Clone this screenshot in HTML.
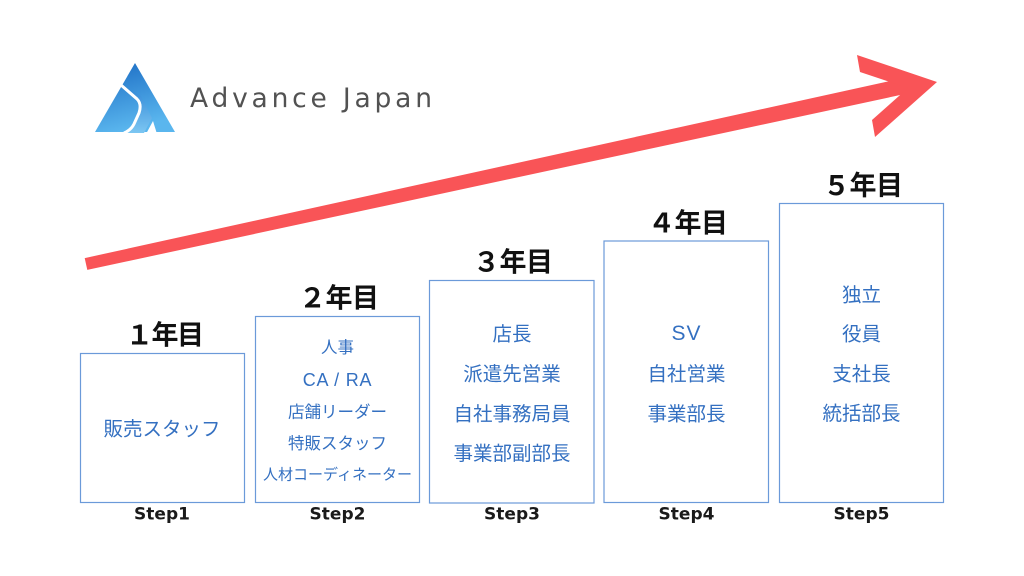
<!DOCTYPE html>
<html><head><meta charset="utf-8"><style>
html,body{margin:0;padding:0;background:#fff;}
svg{display:block;}
.jp{font-family:"Liberation Sans","Noto Sans CJK JP",sans-serif;}
.c{fill:#3470c1;font-size:19.5px;}
.c2{fill:#3470c1;font-size:16.5px;}
.yr{fill:#111;font-size:27px;font-weight:bold;}
.st{fill:#1a1a1a;font-family:"DejaVu Sans",sans-serif;font-weight:bold;font-size:17px;}
</style></head><body>
<svg width="1024" height="576" viewBox="0 0 1024 576" xmlns="http://www.w3.org/2000/svg">
<defs>
<linearGradient id="g" x1="0" y1="0" x2="0.3" y2="1">
<stop offset="0" stop-color="#1a6bc3"/>
<stop offset="1" stop-color="#5ab6ee"/>
</linearGradient>
<linearGradient id="g2" x1="0" y1="0" x2="0" y2="1">
<stop offset="0" stop-color="#2f86d6"/>
<stop offset="1" stop-color="#7cc6f2"/>
</linearGradient>
</defs>
<rect width="1024" height="576" fill="#fff"/>

<!-- logo -->
<polygon points="135,63 95,132 175,132" fill="url(#g)"/>
<path d="M123,86 L137,99 Q142,104 139,113 L134,125 Q131,131 124,133 L144,133 L152,118 L141,96 Z" fill="url(#g2)"/>
<path d="M121,85 L137,99 Q142,104 139,113 L134,124 Q131,130 124,133" stroke="#fff" stroke-width="3" fill="none"/>
<polygon points="146,134 157,134 153,121" fill="#fff"/>
<text x="190" y="107" font-family="'DejaVu Sans',sans-serif" font-size="26.5" fill="#525252" textLength="242" lengthAdjust="spacing">Advance Japan</text>

<!-- arrow -->
<polygon points="84.7,258.1 87.3,269.9 913.7,92.1 910.3,76.5" fill="#f95457"/>
<polygon points="857,55 937,82 875,137 872,120 908,88 860,72" fill="#f95457"/>

<!-- boxes -->
<g fill="none" stroke="#6b9ad9" stroke-width="1.2">
<rect x="80.5" y="353.5" width="164" height="149"/>
<rect x="255.5" y="316.5" width="164" height="186"/>
<rect x="429.5" y="280.5" width="164.5" height="222.5"/>
<rect x="604" y="241" width="164.5" height="261.5"/>
<rect x="779.5" y="203.5" width="164" height="299"/>
</g>

<!-- year labels -->
<g class="jp yr" text-anchor="middle">
<text x="165" y="344.5" textLength="78" lengthAdjust="spacing">１年目</text>
<text x="339" y="307.5" textLength="80" lengthAdjust="spacing">２年目</text>
<text x="513" y="271.5" textLength="80" lengthAdjust="spacing">３年目</text>
<text x="688" y="232.5" textLength="80" lengthAdjust="spacing">４年目</text>
<text x="863" y="195" textLength="80" lengthAdjust="spacing">５年目</text>
</g>

<!-- box contents -->
<g class="jp c" text-anchor="middle">
<text x="162" y="435.4">販売スタッフ</text>

<text x="512" y="340.7">店長</text>
<text x="512" y="380.7">派遣先営業</text>
<text x="512" y="420.7">自社事務局員</text>
<text x="512" y="460.1">事業部副部長</text>

<text x="686.5" y="340" font-size="21" letter-spacing="1">SV</text>
<text x="686.5" y="380.7">自社営業</text>
<text x="686.5" y="420.4">事業部長</text>

<text x="861.5" y="301.4">独立</text>
<text x="861.5" y="340.7">役員</text>
<text x="861.5" y="380.7">支社長</text>
<text x="861.5" y="420.1">統括部長</text>
</g>
<g class="jp c2" text-anchor="middle">
<text x="337.5" y="353">人事</text>
<text x="337.5" y="386" font-size="18" letter-spacing="0.8">CA / RA</text>
<text x="337.5" y="417.3">店舗リーダー</text>
<text x="337.5" y="449">特販スタッフ</text>
<text x="337.5" y="479.7" font-size="15">人材コーディネーター</text>
</g>

<!-- step labels -->
<g class="st" text-anchor="middle">
<text x="162" y="519.5">Step1</text>
<text x="337.5" y="519.5">Step2</text>
<text x="512" y="519.5">Step3</text>
<text x="686.5" y="519.5">Step4</text>
<text x="861.5" y="519.5">Step5</text>
</g>
</svg>
</body></html>
